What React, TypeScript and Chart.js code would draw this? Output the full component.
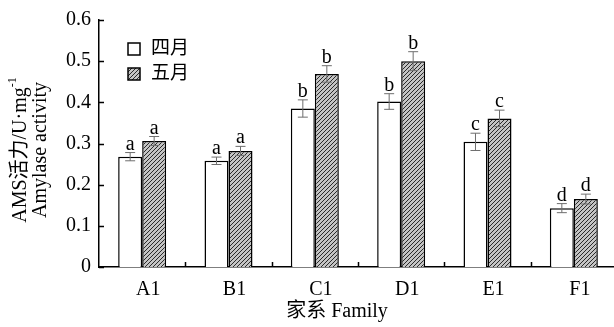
import React, { useEffect, useRef } from "react";
import { Chart, registerables } from "chart.js";

Chart.register(...registerables);

const categories = ["A1", "B1", "C1", "D1", "E1", "F1"];
const aprilValues = [0.268, 0.258, 0.385, 0.402, 0.304, 0.143];
const aprilErrors = [0.010, 0.009, 0.021, 0.019, 0.021, 0.011];
const aprilLetters = ["a", "a", "b", "b", "c", "d"];
const mayValues = [0.306, 0.282, 0.469, 0.500, 0.361, 0.165];
const mayErrors = [0.011, 0.011, 0.020, 0.023, 0.020, 0.012];
const mayLetters = ["a", "a", "b", "b", "c", "d"];
const seriesNames = ["四月", "五月"];
const yTicks = [0, 0.1, 0.2, 0.3, 0.4, 0.5, 0.6];

const FONT = "'Liberation Serif', 'Noto Sans CJK SC', serif";

function makeHatch(): CanvasPattern | string {
  const c = document.createElement("canvas");
  c.width = 4;
  c.height = 4;
  const g = c.getContext("2d");
  if (!g) return "#999";
  g.fillStyle = "#c4c4c4";
  g.fillRect(0, 0, 4, 4);
  g.strokeStyle = "#2a2a2a";
  g.lineWidth = 1;
  g.beginPath();
  g.moveTo(0, 4);
  g.lineTo(4, 0);
  g.moveTo(-1, 1);
  g.lineTo(1, -1);
  g.moveTo(3, 5);
  g.lineTo(5, 3);
  g.stroke();
  const p = g.createPattern(c, "repeat");
  return p || "#999";
}

export default function App() {
  const ref = useRef<HTMLCanvasElement | null>(null);

  useEffect(() => {
    if (!ref.current) return;
    const hatch = makeHatch();

    const overlay = {
      id: "overlay",
      afterDatasetsDraw(chart: any) {
        const ctx = chart.ctx;
        const y = chart.scales.y;
        const area = chart.chartArea;
        const errs = [aprilErrors, mayErrors];
        const vals = [aprilValues, mayValues];
        const lets = [aprilLetters, mayLetters];
        ctx.save();
        // error bars & letters
        for (let d = 0; d < 2; d++) {
          const meta = chart.getDatasetMeta(d);
          meta.data.forEach((bar: any, i: number) => {
            const v = vals[d][i];
            const e = errs[d][i];
            const top = y.getPixelForValue(v + e);
            const bot = y.getPixelForValue(v - e);
            const cx = bar.x;
            ctx.strokeStyle = "#6e6e6e";
            ctx.lineWidth = 1;
            ctx.beginPath();
            ctx.moveTo(cx, top);
            ctx.lineTo(cx, bot);
            ctx.moveTo(cx - 5, top);
            ctx.lineTo(cx + 5, top);
            ctx.moveTo(cx - 5, bot);
            ctx.lineTo(cx + 5, bot);
            ctx.stroke();
            ctx.fillStyle = "#000";
            ctx.font = `20px ${FONT}`;
            ctx.textAlign = "center";
            ctx.textBaseline = "alphabetic";
            ctx.fillText(lets[d][i], cx, top - 3);
          });
        }
        // y ticks inward
        ctx.strokeStyle = "#000";
        ctx.lineWidth = 1.5;
        ctx.beginPath();
        yTicks.forEach((t) => {
          const py = Math.round(y.getPixelForValue(t)) + 0.5;
          ctx.moveTo(area.left, py);
          ctx.lineTo(area.left + 5, py);
        });
        // x ticks at category boundaries
        const n = categories.length;
        const w = (area.right - area.left) / n;
        for (let i = 1; i <= n; i++) {
          const px = Math.round(area.left + i * w) + 0.5;
          ctx.moveTo(px, area.bottom);
          ctx.lineTo(px, area.bottom - 5);
        }
        ctx.stroke();
        // legend
        const boxes = [
          { fill: "#ffffff", yy: 43 },
          { fill: hatch, yy: 68 },
        ];
        boxes.forEach((b, i) => {
          ctx.fillStyle = b.fill as any;
          ctx.fillRect(128, b.yy, 12, 12);
          ctx.strokeStyle = "#000";
          ctx.lineWidth = 1.5;
          ctx.strokeRect(128, b.yy, 12, 12);
          ctx.fillStyle = "#000";
          ctx.font = `19px ${FONT}`;
          ctx.textAlign = "left";
          ctx.textBaseline = "middle";
          ctx.fillText(seriesNames[i], 151, b.yy + 6);
        });
        // x title
        ctx.font = `20px ${FONT}`;
        ctx.textAlign = "center";
        ctx.textBaseline = "middle";
        ctx.fillText("家系 Family", 337, 312);
        // y title
        ctx.save();
        ctx.translate(21, 150);
        ctx.rotate(-Math.PI / 2);
        ctx.textBaseline = "middle";
        ctx.font = `20px ${FONT}`;
        const main = "AMS活力/U·mg";
        const sup = "-1";
        const mw = ctx.measureText(main).width;
        ctx.font = `12px ${FONT}`;
        const sw = ctx.measureText(sup).width;
        const start = -(mw + sw) / 2;
        ctx.font = `20px ${FONT}`;
        ctx.textAlign = "left";
        ctx.fillText(main, start, 0);
        ctx.font = `12px ${FONT}`;
        ctx.fillText(sup, start + mw, -8);
        ctx.font = `20px ${FONT}`;
        ctx.textAlign = "center";
        ctx.fillText("Amylase activity", 0, 20);
        ctx.restore();
        ctx.restore();
      },
    };

    const chart = new Chart(ref.current, {
      type: "bar",
      data: {
        labels: categories,
        datasets: [
          {
            label: seriesNames[0],
            data: aprilValues,
            backgroundColor: "#ffffff",
            borderColor: "#000000",
            borderWidth: 1.5,
            borderSkipped: "bottom",
          },
          {
            label: seriesNames[1],
            data: mayValues,
            backgroundColor: hatch as any,
            borderColor: "#000000",
            borderWidth: 1.5,
            borderSkipped: "bottom",
          },
        ],
      },
      options: {
        responsive: false,
        animation: false,
        devicePixelRatio: 1,
        layout: { padding: { top: 16, right: 1, left: 0, bottom: 0 } },
        plugins: {
          legend: { display: false },
          tooltip: { enabled: false },
          title: { display: false },
        },
        datasets: {
          bar: { categoryPercentage: 0.556, barPercentage: 1 },
        },
        scales: {
          x: {
            grid: { display: false, drawTicks: false },
            border: { display: true, color: "#000", width: 1.5 },
            ticks: {
              color: "#000",
              font: { family: FONT, size: 20 },
              padding: 11,
              labelOffset: 6,
              maxRotation: 0,
            },
            afterFit: (s: any) => {
              s.height = 60;
            },
          },
          y: {
            min: 0,
            max: 0.6,
            grid: { display: false, drawTicks: false },
            border: { display: true, color: "#000", width: 1.5 },
            ticks: {
              stepSize: 0.1,
              color: "#000",
              padding: 8,
              font: { family: FONT, size: 20 },
              callback: (v: any) => (Number(v) === 0 ? "0" : Number(v).toFixed(1)),
            },
            afterFit: (s: any) => {
              s.width = 99;
            },
          },
        },
      },
      plugins: [overlay],
    });
    return () => chart.destroy();
  }, []);

  return (
    <div
      style={{
        position: "fixed",
        left: 0,
        top: 0,
        width: 614,
        height: 327,
        overflow: "hidden",
        background: "#fff",
      }}
    >
      <canvas ref={ref} width={618} height={327} style={{ display: "block" }} />
    </div>
  );
}
